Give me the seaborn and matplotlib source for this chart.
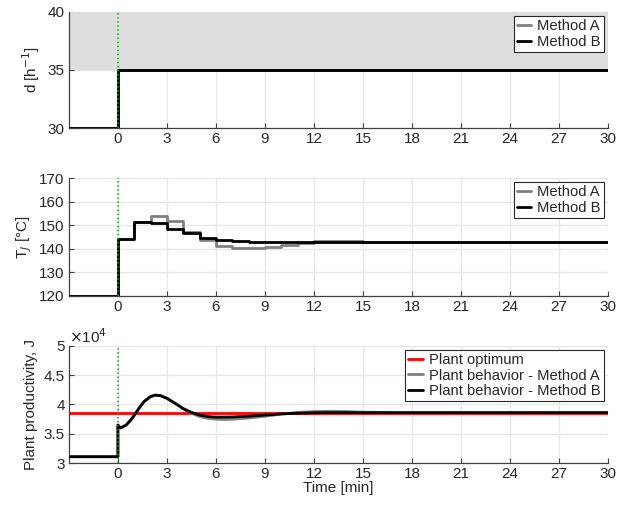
import matplotlib
matplotlib.use("Agg")
import matplotlib.pyplot as plt
import seaborn as sns
from matplotlib.ticker import FuncFormatter

# --- data ---
# dilution rate d [1/h], step input
d_time = [-3, 0, 30]
d_method_a = [30, 35, 35]
d_method_b = [30, 35, 35]

# jacket temperature T_J [degC], piecewise constant per minute
tj_time = [-3] + list(range(0, 31))
tj_method_a = [120, 144, 151.3, 153.9, 151.7, 147.2, 143.7, 141.1, 140.1, 140.1,
               140.6, 141.7, 142.6, 143.2, 143.3, 143.2, 143.0, 142.8, 142.7, 142.7,
               142.7, 142.7, 142.7, 142.7, 142.7, 142.7, 142.7, 142.7, 142.7, 142.7,
               142.7, 142.7]
tj_method_b = [120, 144, 151.3, 151.0, 148.2, 146.5, 144.5, 143.7, 143.2, 142.9,
               142.8, 142.7, 142.7, 142.7, 142.7, 142.7, 142.7, 142.7, 142.7, 142.7,
               142.7, 142.7, 142.7, 142.7, 142.7, 142.7, 142.7, 142.7, 142.7, 142.7,
               142.7, 142.7]

# plant productivity J
j_opt_time = [-3, 30]
j_optimum = [38610, 38610]

j_time_b = [-3, 0, 0, 0.15, 0.5, 0.8, 1.0, 1.3, 1.6, 2.0, 2.3, 2.6, 3.0, 3.5,
            4.0, 4.5, 5.0, 5.5, 6.0, 6.5, 7.0, 8.0, 9.0, 10.0, 11.0, 12.0, 13.0,
            15.0, 30.0]
j_method_b = [31120, 31120, 36500, 36000, 36500, 37400, 38150, 39400, 40500,
              41350, 41600, 41500, 41050, 40200, 39300, 38650, 38200, 37950,
              37850, 37850, 37880, 38000, 38200, 38400, 38520, 38590, 38610,
              38610, 38610]

j_time_a = [-3, 0, 0, 0.15, 0.5, 0.8, 1.0, 1.3, 1.6, 2.0, 2.3, 2.6, 3.0, 3.5,
            4.0, 4.5, 5.0, 5.5, 6.0, 6.5, 7.0, 8.0, 9.0, 10.0, 11.0, 12.0, 13.0,
            14.0, 15.0, 17.0, 30.0]
j_method_a = [31120, 31120, 36500, 36000, 36500, 37400, 38150, 39400, 40500,
              41350, 41600, 41500, 41050, 40200, 39250, 38500, 37950, 37650,
              37500, 37450, 37500, 37700, 38000, 38350, 38650, 38800, 38850,
              38800, 38700, 38620, 38610]

x_ticks = list(range(0, 31, 3))

sns.set_theme(style="whitegrid")
plt.rcParams.update({
    "font.family": ["Liberation Sans", "DejaVu Sans"],
    "font.size": 11,
    "axes.labelsize": 11,
    "xtick.labelsize": 11,
    "ytick.labelsize": 11,
    "grid.color": "#e6e6e6",
    "grid.linewidth": 0.9,
    "axes.edgecolor": "#262626",
    "text.color": "#262626",
    "xtick.color": "#262626",
    "ytick.color": "#262626",
})

GRAY = "#808080"
BLACK = "#000000"
GREEN = "#00b000"

fig = plt.figure(figsize=(6.38, 5.07), dpi=100)
left, width = 0.108, 0.845
ax1 = fig.add_axes([left, 0.7475, width, 0.229])
ax2 = fig.add_axes([left, 0.4168, width, 0.232])
ax3 = fig.add_axes([left, 0.0862, width, 0.232])


def style_axis(ax):
    ax.set_xlim(-3, 30)
    ax.set_xticks(x_ticks)
    for side in ["top", "right"]:
        ax.spines[side].set_visible(False)
    for side in ["left", "bottom"]:
        ax.spines[side].set_color("#404040")
        ax.spines[side].set_linewidth(0.9)
    ax.tick_params(bottom=True, left=True, direction="in", length=3.5,
                   width=0.8, color="#404040", pad=3)
    ax.set_axisbelow(True)
    ax.axvline(0, color=GREEN, linestyle=":", lw=1.1, zorder=5)


def add_legend(ax):
    leg = ax.legend(loc="upper right", frameon=True, fancybox=False,
                    edgecolor="#262626", framealpha=1, borderpad=0.2,
                    handlelength=1.0, handletextpad=0.4, labelspacing=0.1,
                    borderaxespad=0.3, fontsize=10.6)
    leg.get_frame().set_linewidth(0.8)
    leg.set_zorder(10)


# panel 1: dilution rate
ax1.fill_between([-3, 30], 35, 40, color="#dedede", lw=0, zorder=1)
sns.lineplot(x=d_time, y=d_method_a, ax=ax1, color=GRAY, lw=2.0,
             drawstyle="steps-post", estimator=None, sort=False,
             label="Method A", zorder=3)
sns.lineplot(x=d_time, y=d_method_b, ax=ax1, color=BLACK, lw=2.0,
             drawstyle="steps-post", estimator=None, sort=False,
             label="Method B", zorder=4)
ax1.set_ylim(30, 40)
ax1.set_yticks([30, 35, 40])
ax1.set_ylabel("d [h$^{-1}$]")
style_axis(ax1)
add_legend(ax1)

# panel 2: jacket temperature
sns.lineplot(x=tj_time, y=tj_method_a, ax=ax2, color=GRAY, lw=2.0,
             drawstyle="steps-post", estimator=None, sort=False,
             label="Method A", zorder=3)
sns.lineplot(x=tj_time, y=tj_method_b, ax=ax2, color=BLACK, lw=2.0,
             drawstyle="steps-post", estimator=None, sort=False,
             label="Method B", zorder=4)
ax2.set_ylim(120, 170)
ax2.set_yticks(range(120, 171, 10))
ax2.set_ylabel("T$_J$ [°C]")
style_axis(ax2)
add_legend(ax2)

# panel 3: productivity
sns.lineplot(x=j_opt_time, y=j_optimum, ax=ax3, color="#ff0000", lw=2.0,
             estimator=None, sort=False, label="Plant optimum", zorder=2)
sns.lineplot(x=j_time_a, y=j_method_a, ax=ax3, color=GRAY, lw=2.0,
             estimator=None, sort=False,
             label="Plant behavior - Method A", zorder=3)
sns.lineplot(x=j_time_b, y=j_method_b, ax=ax3, color=BLACK, lw=2.0,
             estimator=None, sort=False,
             label="Plant behavior - Method B", zorder=4)
ax3.set_ylim(30000, 50000)
ax3.set_yticks([30000, 35000, 40000, 45000, 50000])
ax3.yaxis.set_major_formatter(FuncFormatter(lambda v, p: f"{v / 1e4:g}"))
ax3.text(0.0, 1.0, r"$\times$10$^{4}$", transform=ax3.transAxes,
         ha="left", va="bottom", fontsize=11)
ax3.set_ylabel("Plant productivity, J")
ax3.set_xlabel("Time [min]", labelpad=0)
style_axis(ax3)
add_legend(ax3)

fig.savefig("out.png", dpi=100)
plt.close(fig)
